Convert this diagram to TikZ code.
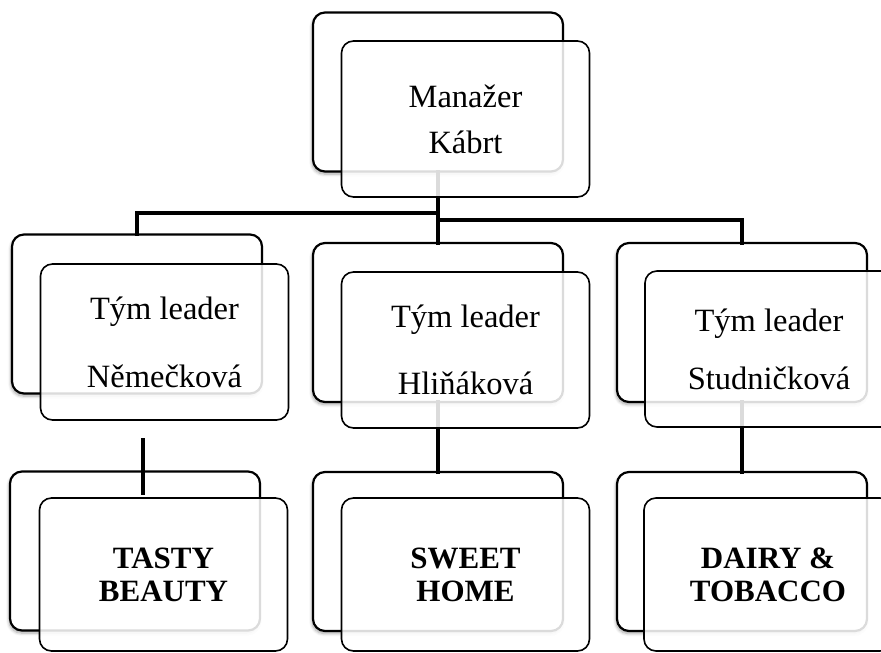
\documentclass[tikz,border=0pt]{standalone}
\usepackage{fontspec}
\setmainfont{Liberation Serif}[BoldFont={Liberation Serif Bold}]
\usetikzlibrary{shadows.blur}

\tikzset{
  backbox/.style={draw=black, line width=2.2pt, rounded corners=12pt, fill=white,
    minimum width=250pt, minimum height=159pt, inner sep=0pt, outer sep=0pt,
    blur shadow={shadow xshift=-1pt, shadow yshift=-2.5pt, shadow blur radius=3pt,
      shadow blur steps=6, shadow opacity=35}},
  frontbox/.style={draw=black, line width=1.6pt, rounded corners=12pt, fill=white,
    fill opacity=0.86, text opacity=1, align=center,
    minimum width=248pt, minimum height=156pt, inner sep=0pt, outer sep=0pt,
    font=\fontsize{32.5}{37}\selectfont},
  lowbox/.style={frontbox, minimum height=153pt, font=\fontsize{31}{33}\selectfont\bfseries},
  link/.style={draw=black, line width=3.6pt, line cap=rect},
}

\begin{document}
\begin{tikzpicture}[x=1pt, y=-1pt]
\useasboundingbox (0,0) rectangle (881,653);

% rear cards with shadows
\node[backbox] (topB) at (438,92) {};
\node[backbox] (lmB) at (137,314) {};
\node[backbox] (mmB) at (438,322.5) {};
\node[backbox] (rmB) at (742,322.5) {};
\node[backbox] (lbB) at (135,551) {};
\node[backbox] (mbB) at (438,551.5) {};
\node[backbox] (rbB) at (742,551.5) {};

% hierarchy lines
\coordinate (barL) at (438,213);
\coordinate (barR) at (438,220);
\coordinate (stubTop) at (143,438);
\coordinate (stubEnd) at (143,495);
\draw[link] (topB.south) -- (mmB.north);
\draw[link] (lmB.north) |- (barL);
\draw[link] (rmB.north) |- (barR);
\draw[link] (mmB.south) -- (mbB.north);
\draw[link] (rmB.south) -- (rbB.north);
\draw[link, line cap=butt] (stubTop) -- (stubEnd);

% front cards with the labels
\node[frontbox] (topF) at (465.5,119) {Manažer\\[9pt]Kábrt};
\node[frontbox] (lmF) at (164.5,342) {Tým leader\\[31pt]Němečková};
\node[frontbox] (mmF) at (465.5,350) {Tým leader\\[30pt]Hliňáková};
\node[frontbox] (rmF) at (769,349) {Tým leader\\[21pt]Studničková};
\node[lowbox] (lbF) at (163.5,574.5) {TASTY\\BEAUTY};
\node[lowbox] (mbF) at (465.5,574.5) {SWEET\\HOME};
\node[lowbox] (rbF) at (768,574.5) {DAIRY \&\\TOBACCO};
\end{tikzpicture}
\end{document}
